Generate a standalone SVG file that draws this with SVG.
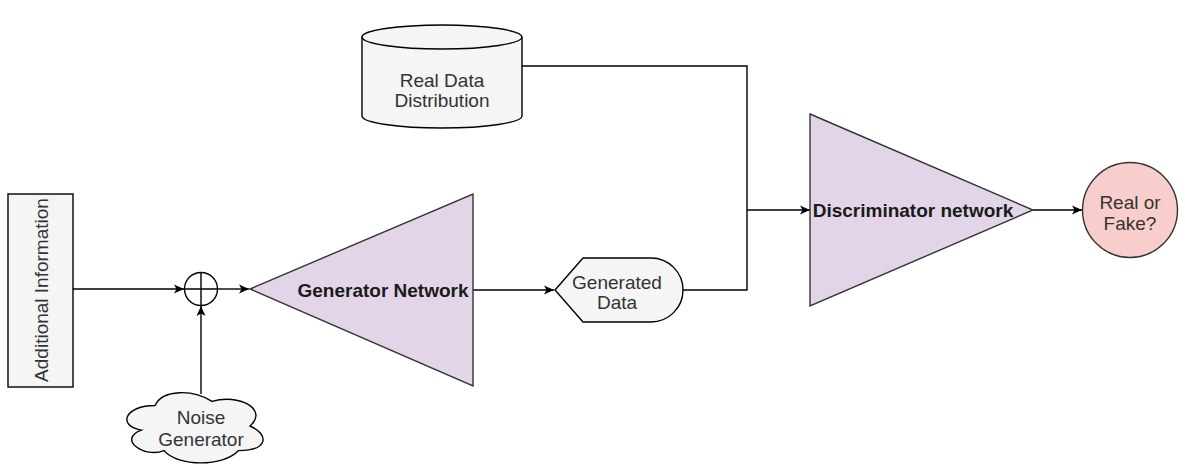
<svg xmlns="http://www.w3.org/2000/svg" width="1185" height="466" viewBox="0 0 1185 466">
  <defs>
    <marker id="arrow" markerWidth="12" markerHeight="12" refX="11" refY="6" orient="auto" markerUnits="userSpaceOnUse">
      <path d="M1,1.5 L11,6 L1,10.5 L3.5,6 Z" fill="#000"/>
    </marker>
    <style>
      .gray { fill: #f5f5f5; stroke: #000; stroke-width: 1.4; }
      .net { fill: #e1d5e7; stroke: #333; stroke-width: 1.4; }
      .out { fill: #f8cecc; stroke: #333; stroke-width: 1.4; }
      .edge { fill: none; stroke: #000; stroke-width: 1.4; }
      text { font-family: "Liberation Sans", Arial, sans-serif; font-size: 19px; text-anchor: middle; dominant-baseline: central; }
      .light { fill: #333; }
      .bold { font-weight: bold; fill: #1a1a1a; }
    </style>
  </defs>
  <rect width="1185" height="466" fill="#fff"/>

  <!-- connectors -->
  <g id="connectors">
    <path class="edge" d="M73,289 L184,289" marker-end="url(#arrow)"/>
    <path class="edge" d="M201,394 L201,306" marker-end="url(#arrow)"/>
    <path class="edge" d="M217,289 L249,289" marker-end="url(#arrow)"/>
    <path class="edge" d="M473,290 L554,290" marker-end="url(#arrow)"/>
    <path class="edge" d="M683,290 L747,290 L747,66 L522,66"/>
    <path class="edge" d="M747,210 L810,210" marker-end="url(#arrow)"/>
    <path class="edge" d="M1033,210 L1082,210" marker-end="url(#arrow)"/>
  </g>

  <!-- side input -->
  <g id="additional-info">
    <rect class="gray" x="8" y="194" width="65" height="193"/>
    <text class="light" transform="translate(41,290) rotate(-90)">Additional Information</text>
  </g>

  <!-- summing junction -->
  <g id="sum">
    <circle cx="201" cy="289" r="16.5" fill="#fff" stroke="#000" stroke-width="1.4"/>
    <path class="edge" d="M184.5,289 L217.5,289 M201,272.5 L201,305.5"/>
  </g>

  <!-- noise source -->
  <g id="noise">
    <path class="gray" d="M155,405.5 C124.6,405.5 117,426 141.3,430.1 C117,439.1 144.4,458.8 164.1,450.6 C177.8,467 223.4,467 238.6,450.6 C269,450.6 269,434.2 250,426 C269,409.6 238.6,393.2 212,401.4 C193,389.1 162.6,389.1 155,405.5 Z"/>
    <text class="light" x="201" y="417">Noise</text>
    <text class="light" x="201" y="439">Generator</text>
  </g>

  <!-- generator -->
  <g id="generator">
    <path class="net" d="M250,289 L473,194 L473,386 Z"/>
    <text class="bold" x="383" y="290">Generator Network</text>
  </g>

  <!-- generated samples -->
  <g id="generated-data">
    <path class="gray" d="M555,290 L583,258 L651,258 A32,32 0 0 1 651,322 L583,322 Z"/>
    <text class="light" x="617" y="282">Generated</text>
    <text class="light" x="617" y="302">Data</text>
  </g>

  <!-- real data store -->
  <g id="real-data">
    <path class="gray" d="M362,37 A80,12 0 0 1 522,37 L522,116 A80,12 0 0 1 362,116 Z"/>
    <path class="edge" d="M362,37 A80,12 0 0 0 522,37"/>
    <text class="light" x="442" y="80">Real Data</text>
    <text class="light" x="442" y="100">Distribution</text>
  </g>

  <!-- discriminator -->
  <g id="discriminator">
    <path class="net" d="M810,114 L1033,210 L810,306 Z"/>
    <text class="bold" x="913" y="210">Discriminator network</text>
  </g>

  <!-- decision -->
  <g id="decision">
    <circle class="out" cx="1130" cy="210" r="47.5"/>
    <text class="light" x="1130" y="202">Real or</text>
    <text class="light" x="1130" y="223">Fake?</text>
  </g>
</svg>
